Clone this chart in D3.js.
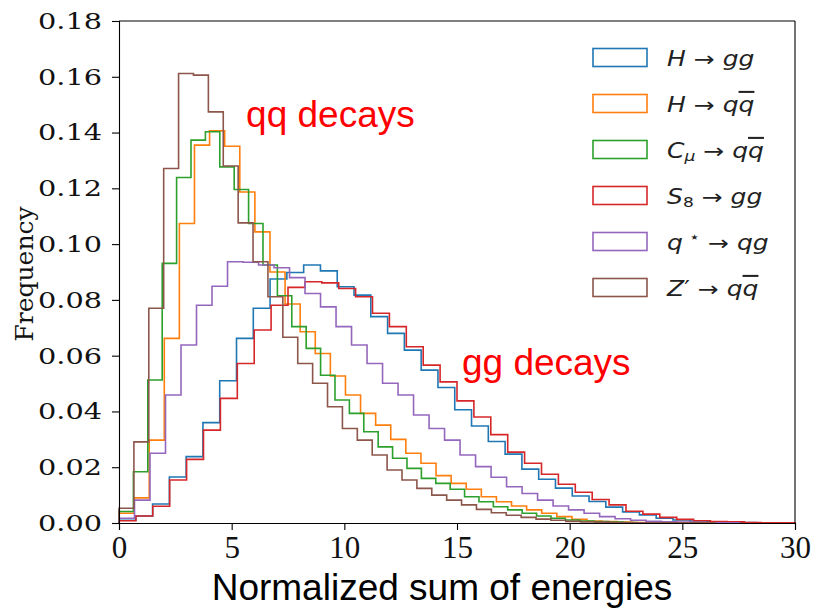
<!DOCTYPE html>
<html><head><meta charset="utf-8">
<script src="https://cdn.jsdelivr.net/npm/d3@7"></script>
<style>body{margin:0;background:#fff;} svg{display:block;}</style>
</head><body>
<svg id="chart" width="813" height="611"></svg>
<script>
// ---------- data ----------
const xTicks = [0, 5, 10, 15, 20, 25, 30];
const yTicks = [0, 0.02, 0.04, 0.06, 0.08, 0.10, 0.12, 0.14, 0.16, 0.18];
const seriesKeys = ["Hgg", "Hqq", "Cmu", "S8", "qstar", "Zp"];
const seriesColors = ["#1f77b4", "#ff7f0e", "#2ca02c", "#d62728", "#9467bd", "#8c564b"];
const binStarts = [0, 0, 0, 0, 0, 0];
const binWidths = [0.745, 0.670, 0.639, 0.750, 0.688, 0.661];

const hGG = [0.0010,0.0025,0.0068,0.0165,0.0238,0.0360,0.0510,0.0662,0.0770,0.0875,
             0.0898,0.0925,0.0904,0.0847,0.0817,0.0740,0.0680,0.0620,0.0548,0.0486,
             0.0406,0.0348,0.0292,0.0247,0.0193,0.0157,0.0125,0.0097,0.0077,0.0057,
             0.0040,0.0029,0.0017,0.0011,0.0007,0.0004,0.0003,0.0002,0.0001,0.0001];
const hQQ = [0.0035,0.0090,0.0297,0.0662,0.1074,0.1355,0.1406,0.1351,0.1187,0.1044,
             0.0900,0.0785,0.0686,0.0608,0.0527,0.0459,0.0393,0.0351,0.0300,0.0250,
             0.0214,0.0170,0.0142,0.0121,0.0094,0.0076,0.0061,0.0047,0.0035,0.0023,
             0.0013,0.0007,0.0005,0.0003,0.0002,0.0002,0.0001,0.0001,0.0001,0.0001];
const cmuQQ = [0.0041,0.0184,0.0513,0.0931,0.1239,0.1373,0.1403,0.1277,0.1196,0.1074,
               0.0925,0.0815,0.0704,0.0626,0.0530,0.0441,0.0393,0.0327,0.0273,0.0232,
               0.0196,0.0160,0.0142,0.0121,0.0094,0.0076,0.0058,0.0047,0.0035,0.0025,
               0.0017,0.0011,0.0007,0.0005,0.0003,0.0002,0.0001,0.0001,0.0001,0.0001];
const s8GG = [0.0008,0.0025,0.0060,0.0154,0.0228,0.0333,0.0447,0.0572,0.0692,0.0781,
              0.0845,0.0865,0.0861,0.0841,0.0811,0.0752,0.0704,0.0632,0.0566,0.0506,
              0.0438,0.0380,0.0317,0.0254,0.0214,0.0175,0.0139,0.0110,0.0084,0.0065,
              0.0042,0.0032,0.0020,0.0013,0.0008,0.0005,0.0004,0.0002,0.0001,0.0001];
const qstarQG = [0.0017,0.0082,0.0250,0.0459,0.0638,0.0781,0.0849,0.0937,0.0935,0.0925,
                 0.0915,0.0880,0.0823,0.0775,0.0704,0.0638,0.0572,0.0501,0.0459,0.0387,
                 0.0339,0.0297,0.0244,0.0202,0.0164,0.0130,0.0106,0.0082,0.0061,0.0047,
                 0.0035,0.0023,0.0015,0.0010,0.0006,0.0004,0.0003,0.0002,0.0001,0.0001];
const zpQQ = [0.0053,0.0291,0.0770,0.1271,0.1612,0.1606,0.1474,0.1280,0.1076,0.0937,
              0.0811,0.0666,0.0572,0.0501,0.0417,0.0339,0.0297,0.0244,0.0190,0.0154,
              0.0124,0.0100,0.0082,0.0065,0.0049,0.0037,0.0028,0.0020,0.0014,0.0010,
              0.0006,0.0004,0.0003,0.0002,0.0001,0.0001,0.0001,0.0001,0.0001,0.0001];
const seriesValues = [hGG, hQQ, cmuQQ, s8GG, qstarQG, zpQQ];

const xLabel = "Normalized sum of energies";
const yLabel = "Frequency";
const notes = [{text: "qq decays", x: 5.64, y: 0.1419}, {text: "gg decays", x: 15.22, y: 0.0530}];

// ---------- drawing ----------
const svg = d3.select("#chart");
const x = d3.scaleLinear().domain([0, 30]).range([119, 795]);
const y = d3.scaleLinear().domain([0, 0.18]).range([523, 21]);

const stepLine = d3.line().x(d => x(d[0])).y(d => y(d[1])).curve(d3.curveStepAfter);

seriesValues.forEach((vals, i) => {
  const w = binWidths[i], s = binStarts[i];
  const pts = [[s, 0]];
  vals.forEach((v, k) => pts.push([s + k * w, v]));
  pts.push([s + vals.length * w, 0]);
  svg.append("path").attr("d", stepLine(pts))
    .attr("fill", "none").attr("stroke", seriesColors[i])
    .attr("stroke-width", 1.6).attr("stroke-linejoin", "miter");
});

// frame
const frame = svg.append("g").attr("stroke", "#000").attr("stroke-width", 1.1);
frame.append("line").attr("x1", x(0)).attr("x2", x(30)).attr("y1", y(0.18)).attr("y2", y(0.18));
frame.append("line").attr("x1", x(30)).attr("x2", x(30)).attr("y1", y(0)).attr("y2", y(0.18));

// axes
const gx = svg.append("g").attr("transform", `translate(0,${y(0)})`)
  .call(d3.axisBottom(x).tickValues(xTicks).tickSize(7).tickPadding(6).tickFormat(d3.format("d")));
gx.selectAll("text").attr("font-family", "'Liberation Serif', serif").attr("font-size", 31).attr("fill", "#111");
const gy = svg.append("g").attr("transform", `translate(${x(0)},0)`)
  .call(d3.axisLeft(y).tickValues(yTicks).tickSize(7).tickPadding(6.6).tickFormat(d3.format(".2f")));
gy.selectAll("text").attr("font-family", "'DejaVu Serif', serif").attr("font-size", 23)
  .attr("fill", "#111").attr("transform", "scale(1.25,1)");
[gx, gy].forEach(g => {
  g.select(".domain").attr("stroke", "#000").attr("stroke-width", 1.1);
  g.selectAll(".tick line").attr("stroke", "#000").attr("stroke-width", 1.1);
});

// axis labels
svg.append("text").attr("x", 442).attr("y", 600).attr("text-anchor", "middle")
  .attr("font-family", "'Liberation Sans', Arial, sans-serif").attr("font-size", 37).attr("fill", "#000")
  .text(xLabel);
svg.append("text").attr("transform", "translate(33,274) rotate(-90)").attr("text-anchor", "middle")
  .attr("font-family", "'DejaVu Serif', serif").attr("font-size", 25).attr("fill", "#111")
  .text(yLabel);

// annotations
notes.forEach(n => {
  svg.append("text").attr("x", x(n.x)).attr("y", y(n.y))
    .attr("font-family", "'Liberation Sans', Arial, sans-serif").attr("font-size", 37).attr("fill", "#ff0000")
    .text(n.text);
});

// legend
const legendParts = [
  [["H", "i"], [" \u2192 ", "n"], ["gg", "i"]],
  [["H", "i"], [" \u2192 ", "n"], ["q", "i"], ["q", "io"]],
  [["C", "i"], ["\u03BC", "isub"], [" \u2192 ", "n"], ["q", "i"], ["q", "io"]],
  [["S", "i"], ["8", "sub"], [" \u2192 ", "n"], ["gg", "i"]],
  [["q", "i"], [" \u22C6", "sup"], [" \u2192 ", "n"], ["qg", "i"]],
  [["Z", "i"], ["\u2032", "n"], [" \u2192 ", "n"], ["q", "i"], ["q", "io"]]
];
const lg = svg.append("g");
legendParts.forEach((parts, i) => {
  const cy = 57.5 + i * 46;
  lg.append("rect").attr("x", 593).attr("y", cy - 9).attr("width", 54).attr("height", 18)
    .attr("fill", "none").attr("stroke", seriesColors[i]).attr("stroke-width", 1.6);
  const t = lg.append("text").attr("transform", `translate(667,${cy + 8}) scale(1.22,1)`)
    .attr("font-family", "'DejaVu Sans', sans-serif").attr("font-size", 20.5).attr("fill", "#222");
  parts.forEach(([s, st]) => {
    const ts = t.append("tspan").text(s);
    if (st.includes("i")) ts.attr("font-style", "italic");
    if (st.includes("o")) ts.style("text-decoration", "overline");
    if (st.includes("sub")) ts.attr("font-size", 14).attr("baseline-shift", "-25%");
    if (st.includes("sup")) ts.attr("font-size", 15).attr("baseline-shift", "45%");
  });
});
</script>
</body></html>
